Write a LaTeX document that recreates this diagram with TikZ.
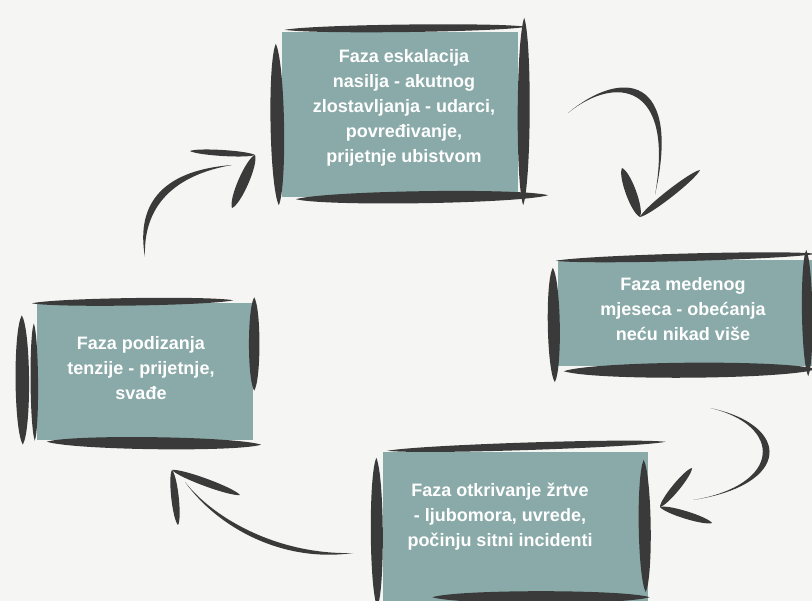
\documentclass[tikz,border=0pt]{standalone}
\usepackage{fontspec}
\setsansfont{Liberation Sans}
\usetikzlibrary{calc}
\definecolor{paper}{RGB}{245,245,243}
\definecolor{ink}{RGB}{58,58,58}
\definecolor{slate}{RGB}{137,170,168}
\tikzset{phase/.style={fill=slate,inner sep=0pt},
        phasetext/.style={text=white,align=center,inner sep=0pt,
        font=\sffamily\bfseries\fontsize{18}{25}\selectfont}}
% one brush stroke: from, to, half width
\newcommand{\brush}[3]{%
  \fill[ink] #1 .. controls ($#1!0.12!#2!#3!90:#2$) and ($#1!0.88!#2!#3!90:#2$) .. #2
    .. controls ($#1!0.88!#2!#3!-90:#2$) and ($#1!0.12!#2!#3!-90:#2$) .. #1 -- cycle;}
% curved brush shaft: start, control, control, end, offset
\newcommand{\shaft}[5]{%
  \fill[ink] #1 .. controls #2 and #3 .. #4
    .. controls ($#3+#5$) and ($#2+#5$) .. #1 -- cycle;}

\begin{document}
\begin{tikzpicture}[x=1pt,y=-1pt]
\fill[paper] (0,0) rectangle (812,601);
\useasboundingbox (0,0) rectangle (812,601);
\clip (0,0) rectangle (812,601);

% boxes
\node[phase,minimum width=236pt,minimum height=165pt] (eskalacija) at (400,114.5) {};
\node[phase,minimum width=258pt,minimum height=106pt] (medenog) at (687,313) {};
\node[phase,minimum width=216pt,minimum height=137pt] (podizanja) at (145,372) {};
\node[phase,minimum width=265pt,minimum height=150pt] (otkrivanje) at (515,527) {};

% sketchy borders
\brush{([shift={(3,-2)}]eskalacija.north west)}{([shift={(8,-5)}]eskalacija.north east)}{5pt}
\brush{([shift={(6,-14)}]eskalacija.north east)}{([shift={(5,8)}]eskalacija.south east)}{8pt}
\brush{([shift={(14,2)}]eskalacija.south west)}{([shift={(30,-2)}]eskalacija.south east)}{8pt}
\brush{([shift={(-6,12)}]eskalacija.north west)}{([shift={(-3,8)}]eskalacija.south west)}{9pt}

\brush{([shift={(-2,1)}]medenog.north west)}{([shift={(0,-6)}]medenog.north east)}{5pt}
\brush{([shift={(-5,8)}]medenog.north west)}{([shift={(-3,16)}]medenog.south west)}{8pt}
\brush{([shift={(6,5)}]medenog.south west)}{([shift={(0,3)}]medenog.south east)}{10pt}
\brush{([shift={(-10,-10)}]medenog.north east)}{([shift={(-8,10)}]medenog.south east)}{7pt}

\brush{([shift={(-5,0)}]podizanja.north west)}{([shift={(-20,-3)}]podizanja.north east)}{5pt}
\brush{([shift={(-15,12)}]podizanja.north west)}{([shift={(-14,4)}]podizanja.south west)}{9pt}
\brush{([shift={(-3,20)}]podizanja.north west)}{([shift={(-2,0)}]podizanja.south west)}{5pt}
\brush{([shift={(1,-6)}]podizanja.north east)}{([shift={(1,-50)}]podizanja.south east)}{7pt}
\brush{([shift={(10,1)}]podizanja.south west)}{([shift={(8,4)}]podizanja.south east)}{8pt}

\brush{([shift={(5,-1)}]otkrivanje.north west)}{([shift={(18,-10)}]otkrivanje.north east)}{5pt}
\brush{([shift={(-6,6)}]otkrivanje.north west)}{([shift={(-5,5)}]otkrivanje.south west)}{8pt}
\brush{([shift={(-4,8)}]otkrivanje.north east)}{([shift={(-2,-10)}]otkrivanje.south east)}{8pt}
\brush{([shift={(50,-5)}]otkrivanje.south west)}{([shift={(2,-5)}]otkrivanje.south east)}{8pt}

% texts
\node[phasetext] (eskalacija-t) at ([shift={(4,-6.5)}]eskalacija.center)
  {Faza eskalacija\\nasilja - akutnog\\zlostavljanja - udarci,\\povređivanje,\\prijetnje ubistvom};
\node[phasetext] (medenog-t) at ([shift={(-4,-4)}]medenog.center)
  {Faza medenog\\mjeseca - obećanja\\neću nikad više};
\node[phasetext] (podizanja-t) at ([shift={(-4,-4)}]podizanja.center)
  {Faza podizanja\\tenzije - prijetnje,\\svađe};
\node[phasetext] (otkrivanje-t) at ([shift={(-15,-10)}]otkrivanje.center)
  {Faza otkrivanje žrtve\\- ljubomora, uvrede,\\počinju sitni incidenti};

% arrow ends
\coordinate (ptoe-s) at (145,257);
\coordinate (ptoe-e) at (232,165);
\coordinate (ptoe-t) at (255,155);
\coordinate (etom-s) at (568,113);
\coordinate (etom-e) at (655,195);
\coordinate (etom-t) at (640,217);
\coordinate (mtoo-s) at (710,408);
\coordinate (mtoo-e) at (693,500);
\coordinate (mtoo-t) at (660,507);
\coordinate (otop-s) at (353,553);
\coordinate (otop-e) at (185,482);
\coordinate (otop-t) at (172,470);

% arrows
\shaft{(ptoe-s)}{(143,205)}{(175,175)}{(ptoe-e)}{(-8,-5)}
\brush{(ptoe-t)}{(190,151)}{4pt}
\brush{(ptoe-t)}{(232,208)}{7pt}

\shaft{(etom-s)}{(615,75)}{(675,82)}{(etom-e)}{(7,-7)}
\brush{(etom-t)}{(622,168)}{7pt}
\brush{(etom-t)}{(700,170)}{5pt}

\shaft{(mtoo-s)}{(783,425)}{(783,485)}{(mtoo-e)}{(9,0)}
\brush{(mtoo-t)}{(692,468)}{5pt}
\brush{(mtoo-t)}{(712,523)}{5pt}

\shaft{(otop-s)}{(280,555)}{(215,520)}{(otop-e)}{(3,8)}
\brush{(otop-t)}{(240,495)}{5pt}
\brush{(otop-t)}{(178,525)}{5pt}
\end{tikzpicture}
\end{document}
